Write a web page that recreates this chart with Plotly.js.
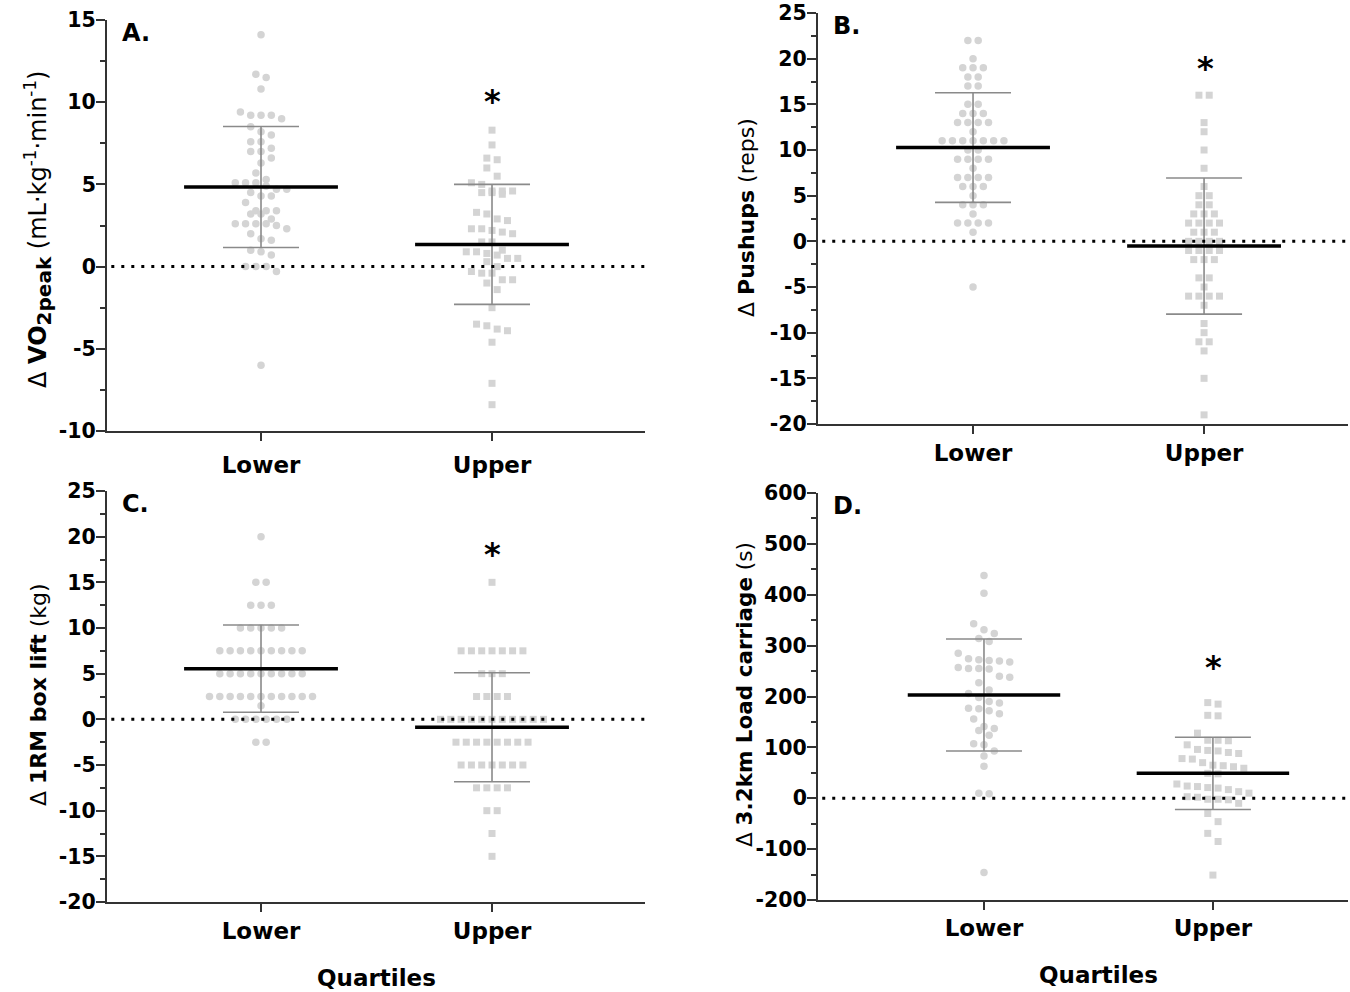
<!DOCTYPE html>
<html><head><meta charset="utf-8">
<script src="https://cdn.plot.ly/plotly-3.0.1.min.js"></script>
<style>html,body{margin:0;padding:0;background:#fff}</style>
</head><body><div id="chart" style="width:1350px;height:992px"></div>
<script>
// ---------- data ----------
const categories = ['Lower', 'Upper'];

// A. Δ VO2peak (mL·kg-1·min-1)
const vo2Lower = [14.1, 11.7, 11.5, 10.8, 9.4, 9.2, 9.2, 9.2, 9.0, 8.5, 8.2, 8.0, 7.6, 7.6, 7.2, 7.0, 7.0, 6.6, 6.3, 5.7, 5.3, 5.1, 5.1, 5.1, 4.9, 4.7, 4.7, 4.5, 4.3, 4.3, 3.9, 3.4, 3.4, 3.4, 3.2, 3.2, 2.9, 2.6, 2.6, 2.6, 2.6, 2.5, 2.3, 2.0, 1.7, 1.6, 1.0, 0.9, 0.7, 0.0, 0.0, 0.0, -0.3, -6.0];
const vo2Upper = [8.3, 7.4, 6.6, 6.5, 6.0, 5.5, 5.1, 5.0, 4.6, 4.6, 4.5, 4.4, 4.5, 4.6, 3.3, 3.2, 2.9, 2.8, 2.3, 2.2, 2.3, 2.1, 2.0, 1.5, 1.5, 0.9, 0.8, 0.7, 0.9, 1.0, 0.5, 0.5, 0.3, 0.0, -0.3, -0.4, -0.4, -0.8, -1.0, -0.8, -1.4, -2.5, -3.5, -3.8, -3.9, -3.6, -4.6, -7.1, -8.4];
const vo2Mean = [4.84, 1.35];
const vo2SD = [3.68, 3.65];
const vo2Ticks = [-10, -5, 0, 5, 10, 15];
const vo2TickText = ['-10', '-5', '0', '5', '10', '15'];

// B. Δ Pushups (reps)
const pushLower = [22, 22, 20, 19, 19, 19, 18, 18, 17, 17, 15, 15, 14, 14, 14, 13, 13, 13, 13, 12, 11, 11, 11, 11, 11, 11, 11, 10, 10, 9, 9, 9, 9, 8, 7, 7, 7, 7, 6, 6, 6, 5, 4, 4, 4, 3, 2, 2, 2, 2, 1, -5];
const pushUpper = [16, 16, 13, 12, 10, 8, 6, 5, 5, 4, 4, 3, 3, 3, 2, 2, 2, 2, 1, 1, 1, 0, 0, 0, 0, -1, -1, -1, -1, -2, -2, -2, -4, -4, -5, -6, -6, -6, -6, -7, -9, -10, -11, -11, -12, -15, -19];
const pushMean = [10.27, -0.52];
const pushSD = [6.0, 7.45];
const pushTicks = [-20, -15, -10, -5, 0, 5, 10, 15, 20, 25];
const pushTickText = ['-20', '-15', '-10', '-5', '0', '5', '10', '15', '20', '25'];

// C. Δ 1RM box lift (kg)
const liftLower = [20, 15, 15, 12.5, 12.5, 12.5, 10, 10, 10, 10, 10, 7.5, 7.5, 7.5, 7.5, 7.5, 7.5, 7.5, 7.5, 7.5, 5, 5, 5, 5, 5, 5, 5, 5, 5, 2.5, 2.5, 2.5, 2.5, 2.5, 2.5, 2.5, 2.5, 2.5, 2.5, 2.5, 1.5, 0, 0, 0, 0, 0, 0, -2.5, -2.5];
const liftUpper = [15, 7.5, 7.5, 7.5, 7.5, 7.5, 7.5, 7.5, 5, 5, 5, 2.5, 2.5, 2.5, 2.5, 0, 0, 0, 0, 0, 0, 0, 0, 0, 0, 0, -2.5, -2.5, -2.5, -2.5, -2.5, -2.5, -2.5, -2.5, -5, -5, -5, -5, -5, -5, -5, -7.5, -7.5, -7.5, -7.5, -10, -10, -12.5, -15];
const liftMean = [5.55, -0.87];
const liftSD = [4.78, 5.97];
const liftTicks = [-20, -15, -10, -5, 0, 5, 10, 15, 20, 25];
const liftTickText = ['-20', '-15', '-10', '-5', '0', '5', '10', '15', '20', '25'];

// D. Δ 3.2km Load carriage (s)
const loadLower = [438, 403, 343, 331, 324, 314, 308, 285, 274, 271, 270, 268, 272, 257, 255, 255, 254, 240, 238, 227, 213, 206, 198, 190, 187, 177, 176, 172, 166, 156, 141, 137, 133, 124, 107, 105, 93, 83, 63, 10, 9, -146];
const loadUpper = [188, 185, 163, 162, 128, 114, 114, 113, 105, 96, 93, 90, 94, 88, 78, 77, 70, 65, 64, 62, 59, 49, 48, 24, 21, 17, 10, 20, 23, 28, 13, 3, 2, -2, -2, -3, -10, -30, -46, -69, -85, -151];
const loadMean = [203, 49];
const loadSD = [110, 71];
const loadTicks = [-200, -100, 0, 100, 200, 300, 400, 500, 600];
const loadTickText = ['-200', '-100', '0', '100', '200', '300', '400', '500', '600'];

// ---------- layout helpers ----------
const W = 1350, H = 992;
const F = 'DejaVu Sans, Liberation Sans, Arial, sans-serif';
const dotColor = '#d4d4d4';
const axisColor = '#333333';

const panels = [
  {lo: vo2Lower, up: vo2Upper, mean: vo2Mean, sd: vo2SD, tv: vo2Ticks, tt: vo2TickText, px: [107, 645], py: [20, 431], xr: [-0.6667, 1.6623], yr: [-10, 15], mdt: 2.5, xs: 4, row: 9},
  {lo: pushLower, up: pushUpper, mean: pushMean, sd: pushSD, tv: pushTicks, tt: pushTickText, px: [818, 1348], py: [13, 424], xr: [-0.671, 1.623], yr: [-20, 25], mdt: 2.5, xs: -1, row: 6},
  {lo: liftLower, up: liftUpper, mean: liftMean, sd: liftSD, tv: liftTicks, tt: liftTickText, px: [107, 645], py: [491, 902], xr: [-0.6667, 1.6623], yr: [-20, 25], mdt: 2.5, xs: -1, row: 6},
  {lo: loadLower, up: loadUpper, mean: loadMean, sd: loadSD, tv: loadTicks, tt: loadTickText, px: [818, 1348], py: [493, 900], xr: [-0.725, 1.590], yr: [-200, 600], mdt: 50, xs: -2, row: 10}
];

function swarm(vals, center, pxY, pxX, spacing, rowPx) {
  const s = vals.slice().sort((a, b) => b - a);
  const rows = []; let cur = null;
  s.forEach(v => {
    if (cur && Math.abs(v - cur.start) * pxY <= rowPx) cur.items.push(v);
    else { cur = {start: v, items: [v]}; rows.push(cur); }
  });
  const xs = [], ys = [];
  rows.forEach(r => {
    const n = r.items.length;
    r.items.forEach((v, i) => { xs.push(center + (i - (n - 1) / 2) * spacing / pxX); ys.push(v); });
  });
  return {x: xs, y: ys};
}

const traces = [];
const layout = {
  width: W, height: H, margin: {l: 0, r: 0, t: 0, b: 0},
  paper_bgcolor: '#fff', plot_bgcolor: '#fff', showlegend: false,
  shapes: [], annotations: []
};

panels.forEach((p, k) => {
  const n = k === 0 ? '' : String(k + 1);
  const xa = 'x' + n, ya = 'y' + n;
  const pxX = (p.px[1] - p.px[0]) / (p.xr[1] - p.xr[0]);
  const pxY = (p.py[1] - p.py[0]) / (p.yr[1] - p.yr[0]);
  const a = swarm(p.lo, 0, pxY, pxX, 10.3, p.row);
  const b = swarm(p.up, 1, pxY, pxX, 10.3, p.row);
  traces.push({type: 'scatter', mode: 'markers', x: a.x, y: a.y, xaxis: xa, yaxis: ya,
    marker: {symbol: 'circle', size: 7.5, color: dotColor}, hoverinfo: 'skip'});
  traces.push({type: 'scatter', mode: 'markers', x: b.x, y: b.y, xaxis: xa, yaxis: ya,
    marker: {symbol: 'square', size: 7, color: dotColor}, hoverinfo: 'skip'});
  traces.push({type: 'scatter', mode: 'lines', x: [0, 1], y: p.mean, xaxis: xa, yaxis: ya,
    line: {width: 0, color: 'rgba(0,0,0,0)'},
    error_y: {type: 'data', array: p.sd, visible: true, color: '#8a8a8a', thickness: 1.6, width: 38}, hoverinfo: 'skip'});
  traces.push({type: 'scatter', mode: 'lines', x: [-0.333, 0.333, null, 0.667, 1.333],
    y: [p.mean[0], p.mean[0], null, p.mean[1], p.mean[1]], xaxis: xa, yaxis: ya,
    line: {width: 3.5, color: '#000'}, hoverinfo: 'skip'});

  layout['xaxis' + n] = {
    domain: [p.px[0] / W, p.px[1] / W], range: p.xr, anchor: ya,
    tickmode: 'array', tickvals: [0, 1], ticktext: categories,
    showline: true, linecolor: axisColor, linewidth: 2, mirror: false,
    ticks: 'outside', ticklen: 8, tickwidth: 2, tickcolor: axisColor,
    showgrid: false, zeroline: false, ticklabelstandoff: p.xs,
    tickfont: {family: F, size: 23, color: '#000', weight: 700}
  };
  layout['yaxis' + n] = {
    domain: [1 - p.py[1] / H, 1 - p.py[0] / H], range: p.yr, anchor: xa,
    tickmode: 'array', tickvals: p.tv, ticktext: p.tt,
    showline: true, linecolor: axisColor, linewidth: 2,
    ticks: 'outside', ticklen: 9, tickwidth: 2, tickcolor: axisColor,
    minor: {ticks: 'outside', ticklen: 5, tickwidth: 2, tickcolor: axisColor, tick0: 0, dtick: p.mdt, showgrid: false},
    showgrid: false, zeroline: false, ticklabelstandoff: -4,
    tickfont: {family: F, size: 20.5, color: '#000', weight: 700}
  };
  layout.shapes.push({type: 'line', xref: xa + ' domain', yref: ya, x0: 0.008, x1: 1, y0: 0, y1: 0,
    line: {color: '#000', width: 3, dash: '3px,7px'}, layer: 'above'});
});

function ann(text, x, y, size, extra) {
  return Object.assign({xref: 'paper', yref: 'paper', x: x / W, y: 1 - y / H, text: text, showarrow: false,
    font: {family: F, size: size, color: '#000'}, xanchor: 'center', yanchor: 'middle'}, extra || {});
}
// y-axis titles
layout.annotations.push(ann('Δ <b>VO<sub><span style="font-size:20px">2peak</span></sub></b> (mL·kg<sup>-1</sup>·min<sup>-1</sup>)', 38, 230, 24, {textangle: -90}));
layout.annotations.push(ann('Δ <b>Pushups</b> (reps)', 747, 218, 22, {textangle: -90}));
layout.annotations.push(ann('Δ <b>1RM box lift</b> (kg)', 38, 695, 22, {textangle: -90}));
layout.annotations.push(ann('Δ <b>3.2km Load carriage</b> (s)', 744, 695, 21.5, {textangle: -90}));
// panel letters
layout.annotations.push(ann('<b>A.</b>', 120, 33, 24, {xanchor: 'left'}));
layout.annotations.push(ann('<b>B.</b>', 831, 26, 24, {xanchor: 'left'}));
layout.annotations.push(ann('<b>C.</b>', 120, 504, 24, {xanchor: 'left'}));
layout.annotations.push(ann('<b>D.</b>', 831, 506, 24, {xanchor: 'left'}));
// significance
layout.annotations.push(ann('<b>*</b>', 492, 101, 32));
layout.annotations.push(ann('<b>*</b>', 1205, 68, 32));
layout.annotations.push(ann('<b>*</b>', 492, 554, 32));
layout.annotations.push(ann('<b>*</b>', 1213, 667, 32));
// x titles
layout.annotations.push(ann('<b>Quartiles</b>', 376, 978, 23));
layout.annotations.push(ann('<b>Quartiles</b>', 1098, 975, 23));

Plotly.newPlot('chart', traces, layout, {staticPlot: true, displayModeBar: false});
</script>
</body></html>
